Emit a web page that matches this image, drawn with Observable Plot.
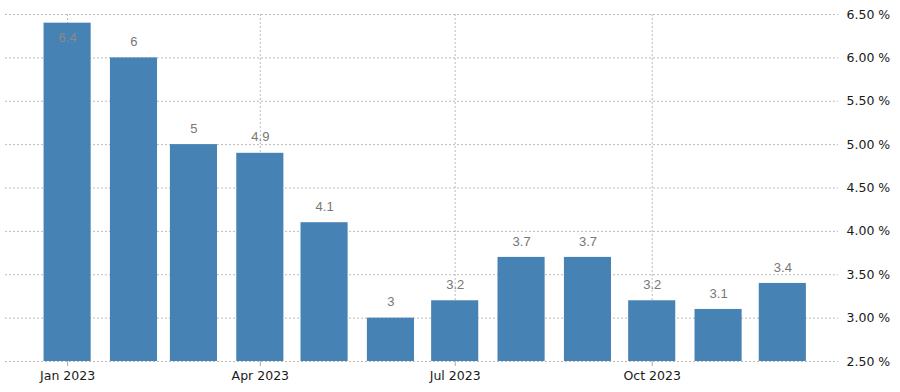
<!DOCTYPE html>
<html>
<head>
<meta charset="utf-8">
<script src="https://cdn.jsdelivr.net/npm/d3@7"></script>
<script src="https://cdn.jsdelivr.net/npm/@observablehq/plot@0.6"></script>
<style>
  html, body { margin: 0; padding: 0; background: #fff; }
  #chart svg { display: block; }
</style>
</head>
<body>
<div id="chart"></div>
<script>
const months = ["2023-01-01","2023-02-01","2023-03-01","2023-04-01","2023-05-01","2023-06-01",
                "2023-07-01","2023-08-01","2023-09-01","2023-10-01","2023-11-01","2023-12-01"];
const values = [6.4, 6, 5, 4.9, 4.1, 3, 3.2, 3.7, 3.7, 3.2, 3.1, 3.4];
const xTicks = ["2023-01-01","2023-04-01","2023-07-01","2023-10-01"];
const yTicks = [2.5, 3, 3.5, 4, 4.5, 5, 5.5, 6, 6.5];

const data = months.map((m, i) => ({date: new Date(m + "T00:00:00Z"), value: values[i]}));
const xTickDates = xTicks.map(t => new Date(t + "T00:00:00Z"));

const fmtLabel = d3.utcFormat("%b %Y");
const half = 11; // bar half-width in days

const chart = Plot.plot({
  width: 900,
  height: 392,
  marginTop: 14,
  marginBottom: 31,
  marginLeft: 5,
  marginRight: 62,
  style: {fontFamily: "'DejaVu Sans', sans-serif", fontSize: "12px", background: "#fff"},
  x: {type: "utc", domain: [new Date("2022-12-03T00:00:00Z"), new Date("2023-12-27T00:00:00Z")], axis: null},
  y: {domain: [2.5, 6.5], axis: null},
  marks: [
    Plot.gridY(yTicks, {stroke: "#bbb", strokeOpacity: 1, strokeDasharray: "2,2"}),
    Plot.gridX(xTickDates, {stroke: "#bbb", strokeOpacity: 1, strokeDasharray: "2,2"}),
    Plot.rect(data, {
      x1: d => d3.utcDay.offset(d.date, -half),
      x2: d => d3.utcDay.offset(d.date, half),
      y1: 2.5,
      y2: "value",
      fill: "#4682b4"
    }),
    Plot.text(data.filter(d => d.value <= 6.3), {
      x: "date", y: "value", text: d => String(d.value), dy: -16,
      fill: "#777", fontSize: 13, fontFamily: "'Liberation Sans', Arial, sans-serif"
    }),
    Plot.text(data.filter(d => d.value > 6.3), {
      x: "date", y: "value", text: d => String(d.value), dy: 15,
      fill: "#8a8a8a", fontSize: 13, fontFamily: "'Liberation Sans', Arial, sans-serif"
    }),
    Plot.axisX(xTickDates, {
      anchor: "bottom", tickSize: 5, tickPadding: 5, stroke: "#aaa",
      tickFormat: fmtLabel, fill: "#1a1a1a", fontSize: 12.5, label: null
    }),
    Plot.axisY(yTicks, {
      anchor: "right", tickSize: 0, tickPadding: 8,
      tickFormat: d => d.toFixed(2) + " %", fill: "#1a1a1a", fontSize: 12.5, label: null
    })
  ]
});
document.getElementById("chart").appendChild(chart);
</script>
</body>
</html>
